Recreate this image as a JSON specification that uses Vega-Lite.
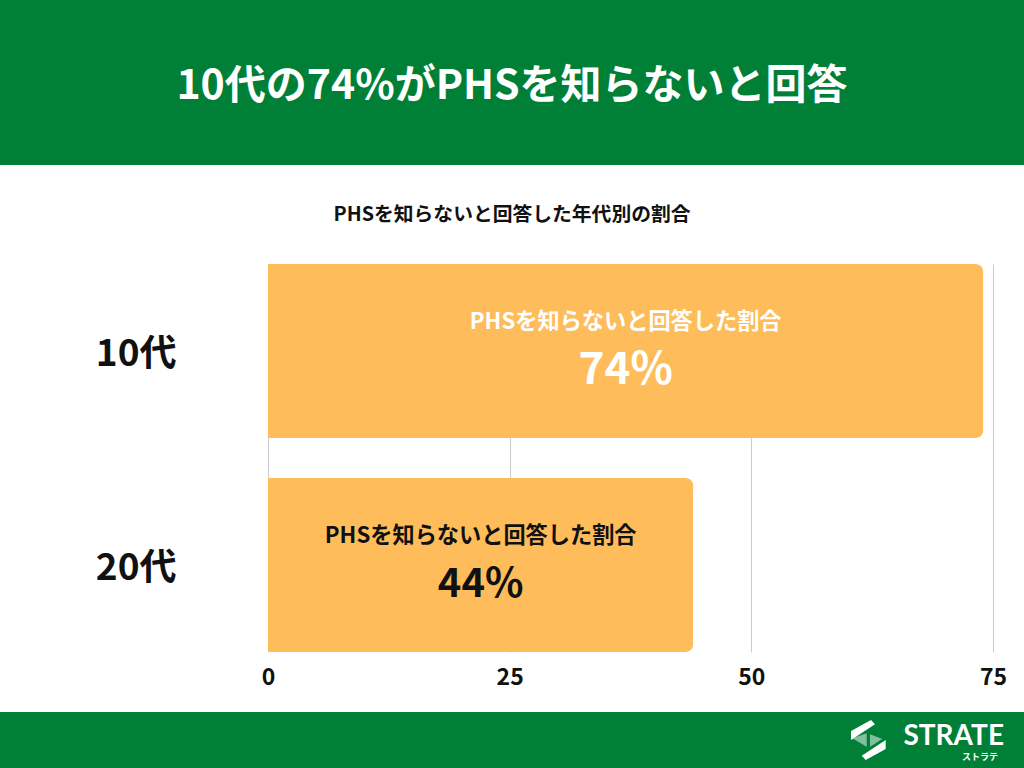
{
  "$schema": "https://vega.github.io/schema/vega-lite/v6.json",
  "padding": 0,
  "spacing": 0,
  "background": "white",
  "config": {"view": {"stroke": null}, "font": "Noto Sans CJK JP", "concat": {"spacing": 0}},
  "vconcat": [
    {
      "width": 1024,
      "height": 165,
      "view": {"fill": "#008037", "stroke": null},
      "data": {"values": [{"title": "10代の74%がPHSを知らないと回答"}]},
      "mark": {"type": "text", "color": "white", "fontSize": 41, "fontWeight": "bold", "font": "Noto Sans CJK JP", "dy": 4},
      "encoding": {"text": {"field": "title"}}
    },
    {
      "width": 1024,
      "height": 99,
      "data": {"values": [{"subtitle": "PHSを知らないと回答した年代別の割合"}]},
      "mark": {"type": "text", "color": "#111111", "fontSize": 19.8, "fontWeight": "bold", "font": "Noto Sans CJK JP"},
      "encoding": {"text": {"field": "subtitle"}}
    },
    {
      "width": 1024,
      "height": 388,
      "data": {"values": [
        {"age": "10代", "metric": "PHSを知らないと回答した割合", "pct": 74},
        {"age": "20代", "metric": "PHSを知らないと回答した割合", "pct": 44}
      ]},
      "transform": [
        {"calculate": "datum.pct / 2", "as": "mid"},
        {"calculate": "datum.pct + '%'", "as": "pctText"}
      ],
      "encoding": {
        "y": {
          "field": "age",
          "type": "nominal",
          "sort": ["10代", "20代"],
          "scale": {"paddingInner": 0.187, "paddingOuter": 0},
          "axis": {
            "title": null,
            "domain": false,
            "ticks": false,
            "tickSize": 0,
            "offset": -176,
            "labelPadding": 0,
            "labelFont": "Noto Sans CJK JP",
            "labelFontSize": 37,
            "labelFontWeight": "bold",
            "labelColor": "#111111",
            "labelOffset": 4
          }
        }
      },
      "layer": [
        {
          "mark": {"type": "bar", "color": "#FEBD5A", "cornerRadiusEnd": 8},
          "encoding": {
            "x": {
              "field": "pct",
              "type": "quantitative",
              "scale": {"domain": [0, 75], "range": [268, 993], "nice": false},
              "axis": {
                "title": null,
                "values": [0, 25, 50, 75],
                "domain": false,
                "ticks": false,
                "tickSize": 0,
                "labelFlush": false,
                "labelPadding": 14,
                "labelFont": "Noto Sans CJK JP",
                "labelFontSize": 23,
                "labelFontWeight": "bold",
                "labelColor": "#111111",
                "grid": true,
                "gridColor": "#cccccc",
                "gridWidth": 1
              }
            }
          }
        },
        {
          "mark": {"type": "text", "fontSize": 22.2, "fontWeight": "bold", "font": "Noto Sans CJK JP", "dy": -29},
          "encoding": {
            "x": {"field": "mid", "type": "quantitative", "title": null},
            "text": {"field": "metric"},
            "color": {"field": "age", "type": "nominal", "scale": {"domain": ["10代", "20代"], "range": ["#ffffff", "#111111"]}, "legend": null}
          }
        },
        {
          "mark": {"type": "text", "fontWeight": "bold", "font": "Noto Sans CJK JP", "dy": 20},
          "encoding": {
            "x": {"field": "mid", "type": "quantitative", "title": null},
            "text": {"field": "pctText"},
            "color": {"field": "age", "type": "nominal", "scale": {"domain": ["10代", "20代"], "range": ["#ffffff", "#111111"]}, "legend": null},
            "size": {"field": "age", "type": "ordinal", "scale": {"domain": ["10代", "20代"], "range": [44, 40]}, "legend": null}
          }
        }
      ]
    },
    {
      "width": 1024,
      "height": 23,
      "data": {"values": [{"blank": ""}]},
      "mark": {"type": "text"},
      "encoding": {"text": {"field": "blank"}}
    },
    {
      "width": 1024,
      "height": 56,
      "view": {"fill": "#008037", "stroke": null},
      "data": {"values": [{"brand": "STRATE", "kana": "ストラテ"}]},
      "layer": [
        {
          "mark": {"type": "text", "align": "right", "baseline": "alphabetic", "dx": -20, "dy": 5, "fontSize": 28, "font": "Lato", "fontWeight": "bold", "letterSpacing": 4, "color": "white"},
          "encoding": {"text": {"field": "brand"}, "x": {"value": "width"}}
        },
        {
          "mark": {"type": "text", "align": "right", "baseline": "alphabetic", "dx": -26, "dy": 20, "fontSize": 9, "font": "Noto Sans CJK JP", "fontWeight": "bold", "letterSpacing": 1.5, "color": "white"},
          "encoding": {"text": {"field": "kana"}, "x": {"value": "width"}}
        },
        {
          "mark": {"type": "point", "filled": true, "color": "white", "opacity": 1, "strokeWidth": 0, "size": 4,
                   "shape": "M-173,-9L-153,-20L-149,-15.7L-173,0Z M-138.3,9L-158.3,20L-162.3,15.7L-138.3,0Z"},
          "encoding": {"x": {"value": "width"}}
        },
        {
          "mark": {"type": "point", "filled": true, "color": "white", "opacity": 0.5, "strokeWidth": 0, "size": 4,
                   "shape": "M-171.7,-1.7L-157.3,-6.7L-157.3,6.7Z M-154,-5.7L-141.7,-1L-154,6.7Z"},
          "encoding": {"x": {"value": "width"}}
        }
      ]
    }
  ]
}
